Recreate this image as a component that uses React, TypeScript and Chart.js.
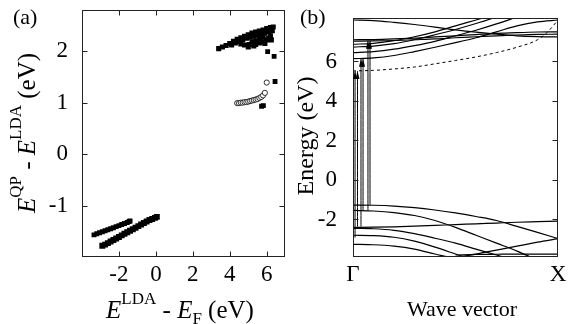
import React, { useEffect, useRef } from "react";
import { Chart, registerables } from "chart.js";
Chart.register(...registerables);

const FONT = "'Liberation Serif', 'DejaVu Serif', serif";

// ---------- Panel (a) data ----------
const xTicksA = [-2, 0, 2, 4, 6];
const yTicksA = [-1, 0, 1, 2];

const valUpperX = [-3.35, -3.2, -3.05, -2.9, -2.75, -2.6, -2.45, -2.3, -2.15, -2.0, -1.85, -1.7, -1.55, -1.45, -1.4];
const valUpperY = [-1.57, -1.55, -1.53, -1.51, -1.49, -1.47, -1.45, -1.43, -1.41, -1.39, -1.37, -1.35, -1.33, -1.31, -1.3];

const valLowerX = [-2.9, -2.75, -2.6, -2.45, -2.3, -2.15, -2.0, -1.85, -1.7, -1.55, -1.4, -1.25, -1.1, -0.95, -0.8, -0.65, -0.5, -0.35, -0.2, -0.05, 0.05];
const valLowerY = [-1.78, -1.76, -1.73, -1.7, -1.67, -1.64, -1.61, -1.58, -1.55, -1.52, -1.49, -1.46, -1.43, -1.4, -1.37, -1.34, -1.31, -1.28, -1.26, -1.24, -1.22];

const condX = [3.4, 3.6, 3.8, 4.0, 4.2, 4.4, 4.6, 4.8, 5.0, 5.2, 5.4, 5.6, 5.8, 6.0, 6.2, 6.35,
  4.1, 4.3, 4.5, 4.7, 4.9, 5.1, 5.3, 5.5, 5.7, 5.9, 6.1, 6.3,
  4.6, 4.8, 5.0, 5.05, 5.2, 5.4, 5.4, 5.6, 5.6, 5.8, 5.8, 6.0, 6.1, 6.2, 6.25, 5.3, 5.9];
const condY = [2.05, 2.08, 2.11, 2.15, 2.19, 2.23, 2.26, 2.29, 2.32, 2.35, 2.37, 2.39, 2.41, 2.44, 2.46, 2.47,
  2.12, 2.16, 2.19, 2.22, 2.25, 2.27, 2.29, 2.31, 2.33, 2.35, 2.38, 2.4,
  2.14, 2.12, 2.08, 2.13, 2.18, 2.2, 2.13, 2.16, 2.24, 2.18, 2.27, 2.22, 2.25, 2.3, 2.22, 2.1, 2.15];

const isoX = [6.05, 6.4, 6.45, 5.72, 5.82];
const isoY = [1.99, 1.9, 1.41, 0.93, 0.94];

const circX = [4.4, 4.5, 4.6, 4.7, 4.8, 4.9, 5.0, 5.1, 5.2, 5.3, 5.4, 5.5, 5.6, 5.7, 5.8, 5.9, 6.0];
const circY = [0.99, 0.99, 1.0, 1.0, 1.01, 1.01, 1.02, 1.03, 1.04, 1.05, 1.06, 1.07, 1.09, 1.11, 1.14, 1.19, 1.39];

// ---------- Panel (b) data ----------
const yTicksB = [-2, 0, 2, 4, 6];
const kLabels = ["Γ", "X"];
const bandK = [0, 0.1, 0.2, 0.3, 0.4, 0.5, 0.6, 0.7, 0.8, 0.9, 1.0];

const c1 = [8.1, 8.07, 7.98, 7.87, 7.74, 7.6, 7.48, 7.38, 7.3, 7.26, 7.24];
const c2 = [7.1, 7.11, 7.14, 7.18, 7.24, 7.3, 7.36, 7.42, 7.46, 7.49, 7.5];
const c3 = [7.03, 7.04, 7.06, 7.1, 7.14, 7.2, 7.25, 7.3, 7.34, 7.37, 7.38];
const c4 = [6.87, 6.92, 7.05, 7.25, 7.5, 7.8, 8.1, 8.4, 8.7, 9.0, 9.3];
const c5 = [6.73, 6.78, 6.9, 7.1, 7.35, 7.62, 7.92, 8.25, 8.6, 8.9, 9.2];
const c6 = [6.45, 6.5, 6.62, 6.8, 7.02, 7.3, 7.58, 7.9, 8.25, 8.6, 8.9];
const c7 = [6.14, 6.18, 6.3, 6.5, 6.72, 6.95, 7.2, 7.5, 7.8, 8.0, 8.1];

const dashK = [0, 0.1, 0.2, 0.3, 0.4, 0.5, 0.6, 0.7, 0.8, 0.9, 0.95, 1.0];
const dashE = [5.52, 5.55, 5.62, 5.72, 5.88, 6.05, 6.23, 6.45, 6.72, 7.1, 7.5, 8.1];

const v1 = [-1.27, -1.28, -1.32, -1.4, -1.52, -1.67, -1.85, -2.05, -2.35, -2.65, -2.97];
const v2 = [-1.54, -1.57, -1.65, -1.8, -2.05, -2.4, -2.8, -3.2, -3.6, -4.05, -4.5];
const v3 = [-2.4, -2.39, -2.37, -2.34, -2.3, -2.26, -2.22, -2.18, -2.14, -2.11, -2.08];
const v4 = [-2.45, -2.47, -2.55, -2.72, -2.95, -3.2, -3.5, -3.8, -4.1, -4.4, -4.7];
const v5 = [-2.8, -2.82, -2.9, -3.1, -3.4, -3.75, -4.1, -4.5, -4.9, -5.3, -5.7];
const v6 = [-3.26, -3.28, -3.35, -3.5, -3.75, -4.0, -4.3, -4.6, -4.9, -5.2, -5.5];
const v7K = [0.45, 0.5, 0.6, 0.7, 0.8, 0.9, 1.0];
const v7E = [-4.0, -3.92, -3.75, -3.55, -3.35, -3.15, -2.97];
const v8K = [0.5, 0.6, 0.7, 0.8, 0.9, 1.0];
const v8E = [-3.8, -3.77, -3.76, -3.75, -3.75, -3.75];

const arrowK = [0.01, 0.022, 0.039, 0.049, 0.073, 0.083];
const arrowFrom = [-2.92, -2.36, -2.36, -1.54, -1.54, -1.27];
const arrowTo = [5.52, 5.52, 6.14, 6.14, 7.05, 7.05];

// ---------- helpers ----------
const zip = (xs: number[], ys: number[]) => xs.map((x, i) => ({ x, y: ys[i] }));

type Seg = { t: string; sup?: boolean; sub?: boolean; it?: boolean };
function drawRich(ctx: CanvasRenderingContext2D, segs: Seg[], x: number, y: number, size: number, rotate: boolean) {
  const small = Math.round(size * 0.68);
  const fontOf = (s: Seg) => `${s.it ? "italic " : ""}${s.sup || s.sub ? small : size}px ${FONT}`;
  let w = 0;
  segs.forEach((s) => { ctx.font = fontOf(s); w += ctx.measureText(s.t).width; });
  ctx.save();
  ctx.translate(x, y);
  if (rotate) ctx.rotate(-Math.PI / 2);
  ctx.textBaseline = "alphabetic";
  ctx.textAlign = "left";
  ctx.fillStyle = "#000";
  let cx = -w / 2;
  segs.forEach((s) => {
    ctx.font = fontOf(s);
    const dy = s.sup ? -size * 0.55 : s.sub ? size * 0.25 : 0;
    ctx.fillText(s.t, cx, dy);
    cx += ctx.measureText(s.t).width;
  });
  ctx.restore();
}

const noPad = (s: any) => { s.paddingTop = 0; s.paddingBottom = 0; s.paddingLeft = 0; s.paddingRight = 0; };

const boxPlugin = {
  id: "box",
  afterDatasetsDraw(chart: any, _a: any, opts: any) {
    const { ctx, chartArea: a, scales } = chart;
    ctx.save();
    ctx.strokeStyle = "#222";
    ctx.lineWidth = 1;
    const l = Math.round(a.left) + 0.5, r = Math.round(a.right) - 0.5;
    const t = Math.round(a.top) + 0.5, b = Math.round(a.bottom) - 0.5;
    ctx.strokeRect(l, t, r - l, b - t);
    const L = 5;
    ctx.beginPath();
    (opts.xTicks || []).forEach((v: number) => {
      const px = Math.round(scales.x.getPixelForValue(v)) + 0.5;
      ctx.moveTo(px, b); ctx.lineTo(px, b - L);
      ctx.moveTo(px, t); ctx.lineTo(px, t + L);
    });
    (opts.yTicks || []).forEach((v: number) => {
      const py = Math.round(scales.y.getPixelForValue(v)) + 0.5;
      ctx.moveTo(l, py); ctx.lineTo(l + L, py);
      ctx.moveTo(r, py); ctx.lineTo(r - L, py);
    });
    ctx.stroke();
    ctx.restore();
  },
};

const textA = {
  id: "textA",
  afterDraw(chart: any) {
    const ctx = chart.ctx;
    ctx.save();
    ctx.fillStyle = "#000";
    ctx.font = `22px ${FONT}`;
    ctx.textBaseline = "alphabetic";
    ctx.fillText("(a)", 13, 24);
    drawRich(ctx, [
      { t: "E", it: true }, { t: "QP", sup: true }, { t: " - " },
      { t: "E", it: true }, { t: "LDA", sup: true }, { t: " (eV)" },
    ], 35, 133, 25, true);
    drawRich(ctx, [
      { t: "E", it: true }, { t: "LDA", sup: true }, { t: " - " },
      { t: "E", it: true }, { t: "F", sub: true }, { t: " (eV)" },
    ], 180, 318, 25, false);
    ctx.restore();
  },
};

const textB = {
  id: "textB",
  afterDraw(chart: any) {
    const ctx = chart.ctx;
    ctx.save();
    ctx.fillStyle = "#000";
    ctx.font = `22px ${FONT}`;
    ctx.textBaseline = "alphabetic";
    ctx.fillText("(b)", 10, 24);
    drawRich(ctx, [{ t: "Energy (eV)" }], 23, 136, 24, true);
    drawRich(ctx, [{ t: "Wave vector" }], 172, 316, 22, false);
    ctx.restore();
  },
};

const arrowPlugin = {
  id: "arrows",
  afterDatasetsDraw(chart: any) {
    const { ctx, scales } = chart;
    ctx.save();
    ctx.fillStyle = "#000";
    arrowK.forEach((k, i) => {
      const px = scales.x.getPixelForValue(k);
      const py = scales.y.getPixelForValue(arrowTo[i]);
      ctx.beginPath();
      ctx.moveTo(px, py);
      ctx.lineTo(px - 2, py + 8);
      ctx.lineTo(px + 2, py + 8);
      ctx.closePath();
      ctx.fill();
    });
    ctx.restore();
  },
};

const tickFont = { family: FONT, size: 23 };

function ChartA() {
  const ref = useRef<HTMLCanvasElement>(null);
  useEffect(() => {
    const sq = (data: any[], r: number) => ({
      data, pointStyle: "rect", pointRadius: r, backgroundColor: "#000", borderColor: "#000", borderWidth: 0,
    });
    const chart = new Chart(ref.current!, {
      type: "scatter",
      data: {
        datasets: [
          sq(zip(valUpperX, valUpperY), 3.5) as any,
          sq(zip(valLowerX, valLowerY), 4.2) as any,
          sq(zip(condX, condY), 3.6) as any,
          sq(zip(isoX, isoY), 3.4) as any,
          {
            data: zip(circX, circY), pointStyle: "circle", pointRadius: 2.6,
            backgroundColor: "#fff", borderColor: "#000", borderWidth: 0.8,
          } as any,
        ],
      },
      options: {
        animation: false,
        responsive: false,
        maintainAspectRatio: false,
        layout: { padding: { left: 0, top: 10, right: 4, bottom: 0 } },
        plugins: {
          legend: { display: false },
          tooltip: { enabled: false },
          box: { xTicks: xTicksA, yTicks: yTicksA },
        } as any,
        scales: {
          x: {
            type: "linear", min: -4, max: 7,
            afterFit: (s: any) => { s.height = 67; noPad(s); },
            afterBuildTicks: (s: any) => { s.ticks = xTicksA.map((v) => ({ value: v })); },
            grid: { display: false, drawTicks: false },
            border: { display: false },
            ticks: { font: tickFont, color: "#000", padding: 4, maxRotation: 0, autoSkip: false },
          },
          y: {
            type: "linear", min: -2, max: 2.8,
            afterFit: (s: any) => { s.width = 82; noPad(s); },
            afterBuildTicks: (s: any) => { s.ticks = yTicksA.map((v) => ({ value: v })); },
            grid: { display: false, drawTicks: false },
            border: { display: false },
            ticks: { font: tickFont, color: "#000", padding: 14, autoSkip: false },
          },
        },
      },
      plugins: [boxPlugin, textA],
    });
    return () => chart.destroy();
  }, []);
  return <canvas ref={ref} width={290} height={324} style={{ position: "absolute", left: 0, top: 0 }} />;
}

function ChartB() {
  const ref = useRef<HTMLCanvasElement>(null);
  useEffect(() => {
    const band = (data: any[], dash?: number[], w = 1.2) => ({
      data, showLine: true, pointRadius: 0, borderColor: "#000", borderWidth: w,
      borderDash: dash || [], cubicInterpolationMode: "monotone", clip: 0,
    });
    const solid = [c1, c2, c3, c4, c5, c6, c7, v1, v2, v3, v4, v5, v6].map((e) => band(zip(bandK, e)) as any);
    const arrows = arrowK.map((k, i) => band([{ x: k, y: arrowFrom[i] }, { x: k, y: arrowTo[i] }], undefined, 1) as any);
    const chart = new Chart(ref.current!, {
      type: "scatter",
      data: {
        datasets: [
          ...solid,
          band(zip(v7K, v7E)) as any,
          band(zip(v8K, v8E)) as any,
          band(zip(dashK, dashE), [3, 3], 1) as any,
          ...arrows,
        ],
      },
      options: {
        animation: false,
        responsive: false,
        maintainAspectRatio: false,
        layout: { padding: { left: 0, top: 18, right: 12, bottom: 0 } },
        plugins: {
          legend: { display: false },
          tooltip: { enabled: false },
          box: { xTicks: [], yTicks: yTicksB },
        } as any,
        scales: {
          x: {
            type: "linear", min: 0, max: 1,
            afterFit: (s: any) => { s.height = 67; noPad(s); },
            afterBuildTicks: (s: any) => { s.ticks = [0, 1].map((v) => ({ value: v })); },
            grid: { display: false, drawTicks: false },
            border: { display: false },
            ticks: {
              font: tickFont, color: "#000", padding: 4, maxRotation: 0, autoSkip: false,
              callback: (v: any) => kLabels[Number(v) === 0 ? 0 : 1],
            },
          },
          y: {
            type: "linear", min: -3.9, max: 8.2,
            afterFit: (s: any) => { s.width = 63; noPad(s); },
            afterBuildTicks: (s: any) => { s.ticks = yTicksB.map((v) => ({ value: v })); },
            grid: { display: false, drawTicks: false },
            border: { display: false },
            ticks: { font: tickFont, color: "#000", padding: 16, autoSkip: false },
          },
        },
      },
      plugins: [boxPlugin, arrowPlugin, textB],
    });
    return () => chart.destroy();
  }, []);
  return <canvas ref={ref} width={280} height={324} style={{ position: "absolute", left: 290, top: 0 }} />;
}

export default function App() {
  return (
    <div style={{ position: "absolute", left: 0, top: 0, width: 570, height: 324, background: "#fff" }}>
      <ChartA />
      <ChartB />
    </div>
  );
}
